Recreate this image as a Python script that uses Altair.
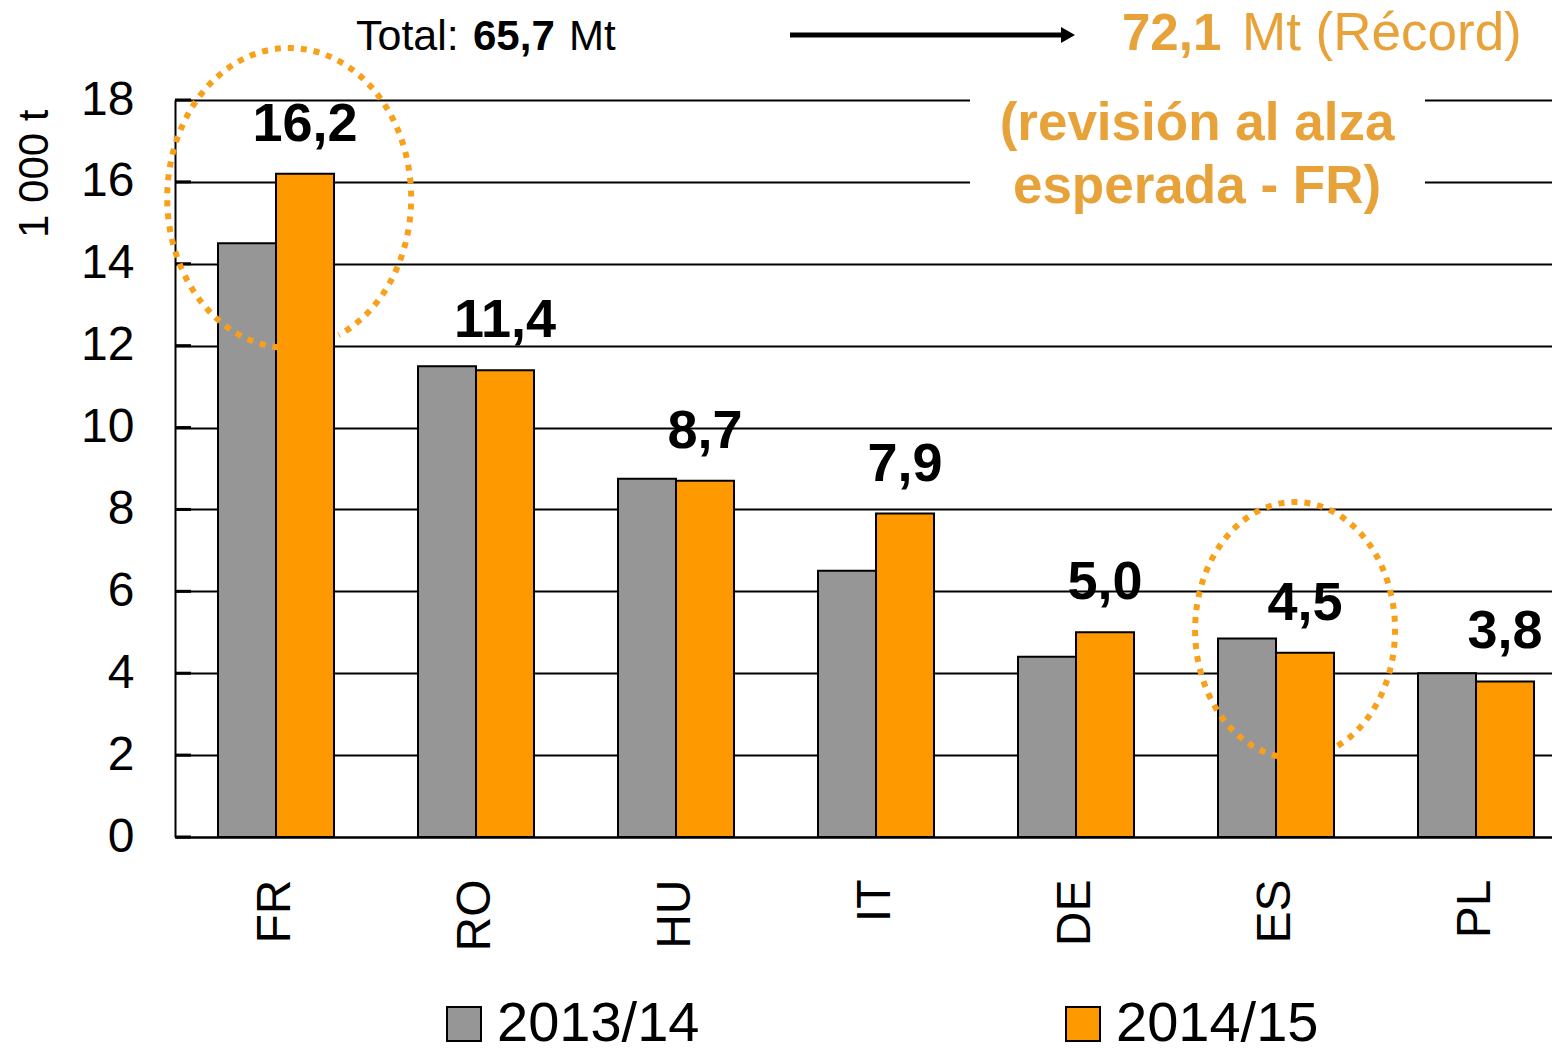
import altair as alt
import pandas as pd

# ---------------- data ----------------
countries = ["FR", "RO", "HU", "IT", "DE", "ES", "PL"]
seasons = ["2013/14", "2014/15"]
values_2013_14 = [14.5, 11.5, 8.75, 6.5, 4.4, 4.85, 4.0]
values_2014_15 = [16.2, 11.4, 8.7, 7.9, 5.0, 4.5, 3.8]
labels_2014_15 = ["16,2", "11,4", "8,7", "7,9", "5,0", "4,5", "3,8"]
y_ticks = [0, 2, 4, 6, 8, 10, 12, 14, 16, 18]
bar_colors = ["#969696", "#FF9900"]

rows = []
for c, a, b, lab in zip(countries, values_2013_14, values_2014_15, labels_2014_15):
    rows.append({"country": c, "season": seasons[0], "value": a, "label": ""})
    rows.append({"country": c, "season": seasons[1], "value": b, "label": lab})
df = pd.DataFrame(rows)
df_lab = df[df["season"] == seasons[1]]
df_ticks = pd.DataFrame({"tick": y_ticks})
one = pd.DataFrame({"k": [0]})

FONT = "Liberation Sans"
ORANGE_TXT = "#E8A23A"
ORANGE_DOT = "#F8A01A"

x_enc = alt.X(
    "country:N",
    sort=countries,
    scale=alt.Scale(paddingInner=0.42, paddingOuter=0.1525, align=0.705),
    axis=alt.Axis(
        title=None, labelAngle=270, labelFontSize=48, labelColor="black",
        labelFont=FONT, labelPadding=42, ticks=False, domainColor="black",
        domainWidth=2, grid=False,
    ),
)
xoff_enc = alt.XOffset("season:N", sort=seasons,
                       scale=alt.Scale(paddingInner=0, paddingOuter=0))
y_enc = alt.Y(
    "value:Q",
    scale=alt.Scale(domain=[0, 18], nice=False),
    axis=alt.Axis(
        values=y_ticks, title="1 000 t", titleFontSize=42, titleFontWeight="normal",
        titleFont=FONT, titleColor="black", titleAngle=270, titleX=-128, titleY=9,
        titleAlign="right", titleBaseline="alphabetic",
        labelFontSize=48, labelFont=FONT, labelColor="black", labelPadding=41,
        ticks=False, grid=True, gridColor="black", gridWidth=2, gridOpacity=1,
        domainColor="black", domainWidth=2,
    ),
)

bars = alt.Chart(df).mark_bar(stroke="black", strokeWidth=2).encode(
    x=x_enc,
    xOffset=xoff_enc,
    y=y_enc,
    color=alt.Color(
        "season:N",
        scale=alt.Scale(domain=seasons, range=bar_colors),
        legend=alt.Legend(
            title=None, orient="none", legendX=261, legendY=896, padding=0,
            direction="horizontal", symbolType="square", symbolSize=1156,
            symbolStrokeColor="black", symbolStrokeWidth=2, symbolOpacity=1,
            labelFontSize=56, labelFont=FONT, labelColor="black", labelLimit=0,
            columnPadding=355, labelOffset=5,
        ),
    ),
)

# short inward tick marks on the value axis
inner_ticks = alt.Chart(df_ticks).mark_rule(color="black", strokeWidth=3).encode(
    y=alt.Y("tick:Q"), x=alt.value(0), x2=alt.value(16)
)

value_text = alt.Chart(df_lab).mark_text(
    fontSize=54, fontWeight="bold", font=FONT, color="black",
    baseline="alphabetic", dy=-33,
).encode(
    x=alt.X("country:N", sort=countries),
    xOffset=alt.XOffset("season:N", sort=seasons),
    y=alt.Y("value:Q"),
    text="label:N",
)

# white box behind the orange note (interrupts gridlines)
white_box = alt.Chart(one).mark_rect(color="white").encode(
    x=alt.value(795), x2=alt.value(1250), y=alt.value(-15), y2=alt.value(115)
)


def txt(s, x, y, size, weight="normal", color="black", align="left"):
    return alt.Chart(one).mark_text(
        text=s, fontSize=size, fontWeight=weight, font=FONT, color=color,
        align=align, baseline="alphabetic",
    ).encode(x=alt.value(x), y=alt.value(y))


t_total = txt("Total:", 181, -50, 43)
t_total_v = txt("65,7", 298, -50, 42, "bold")
t_total_u = txt("Mt", 394, -50, 42)
t_rec_v = txt("72,1", 947, -50, 51, "bold", ORANGE_TXT)
t_rec_u = txt("Mt (Récord)", 1067, -50, 53, "normal", ORANGE_TXT)
t_note1 = txt("(revisión al alza", 1022, 40, 53, "bold", ORANGE_TXT, "center")
t_note2 = txt("esperada - FR)", 1022, 103, 53, "bold", ORANGE_TXT, "center")

arrow_line = alt.Chart(one).mark_rule(color="black", strokeWidth=5).encode(
    x=alt.value(615), x2=alt.value(887), y=alt.value(-65)
)
arrow_head = alt.Chart(one).mark_point(
    shape="triangle-right", size=260, filled=True, color="black", opacity=1
).encode(x=alt.value(893), y=alt.value(-65))

# dotted open ellipses (unit-box custom paths)
fr_path = "M -0.0709 0.996 A 0.813 1 0 1 1 0.331 0.914"
es_path = "M -0.1357 0.985 A 0.781 1 0 1 1 0.318 0.914"
ell_fr = alt.Chart(one).mark_point(
    shape=fr_path, size=90000, filled=False, stroke=ORANGE_DOT, strokeWidth=6,
    strokeDash=[6, 7], opacity=1,
).encode(x=alt.value(114), y=alt.value(98))
ell_es = alt.Chart(one).mark_point(
    shape=es_path, size=65536, filled=False, stroke=ORANGE_DOT, strokeWidth=6,
    strokeDash=[6, 7], opacity=1,
).encode(x=alt.value(1120), y=alt.value(530))

chart = alt.layer(
    bars, inner_ticks, value_text, white_box, t_total, t_total_v, t_total_u,
    arrow_line, arrow_head, t_rec_v, t_rec_u, t_note1, t_note2,
    ell_fr, ell_es,
).properties(
    width=1377, height=737,
    autosize=alt.AutoSizeParams(type="none"),
    padding={"left": 167, "top": 92, "right": 0, "bottom": 206},
    background="white",
).configure_view(strokeWidth=0)

chart.save("out.html", embed_options={"renderer": "svg", "actions": False})
